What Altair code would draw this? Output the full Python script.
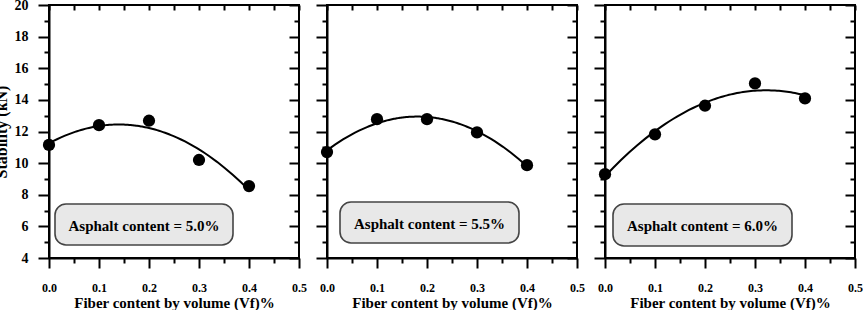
import altair as alt
import pandas as pd

# ---- data ----
fiber = [0.0, 0.1, 0.2, 0.3, 0.4]
stab_50 = [11.15, 12.40, 12.68, 10.20, 8.55]
stab_55 = [10.70, 12.78, 12.78, 11.94, 9.87]
stab_60 = [9.30, 11.82, 13.63, 15.04, 14.09]
box_labels = ["Asphalt content = 5.0%", "Asphalt content = 5.5%", "Asphalt content = 6.0%"]

x_major = [0.0, 0.1, 0.2, 0.3, 0.4, 0.5]
x_minor = [0.05, 0.15, 0.25, 0.35, 0.45]
y_major = [4, 6, 8, 10, 12, 14, 16, 18, 20]
y_minor = [5, 7, 9, 11, 13, 15, 17, 19]

W, H = 250, 253
FONT = "Liberation Serif"

xs = alt.Scale(domain=[0, 0.5], nice=False, zero=False)
ys = alt.Scale(domain=[4, 20], nice=False, zero=False)

tick_style = dict(grid=False, tickColor="black", tickWidth=2, domainColor="black",
                  domainWidth=2, labelFont=FONT, labelFontWeight="bold",
                  labelColor="black", titleFont=FONT, titleFontWeight="bold",
                  titleColor="black")


def panel(vals, label, first, box_x0, box_x1, box_y0, box_y1):
    df = pd.DataFrame({"x": fiber, "y": vals})
    base = alt.Chart(df)

    pts = base.mark_circle(size=150, color="black", opacity=1).encode(
        x=alt.X("x:Q", scale=xs, axis=alt.Axis(
            orient="bottom", values=x_major, format=".1f", tickSize=10,
            labelPadding=14, labelFontSize=12, labelFlush=False, labelOverlap=False,
            title="Fiber content by volume (Vf)%", titleFontSize=15,
            titleBaseline="alphabetic", titleY=49, titleX=W / 2, **tick_style)),
        y=alt.Y("y:Q", scale=ys, axis=alt.Axis(
            orient="left", values=y_major, tickSize=11, labelPadding=10,
            labels=first, labelFontSize=14, labelOverlap=False,
            title="Stability (kN)" if first else "", titleFontSize=16,
            titleX=-40, titleY=H / 2, **tick_style)),
    )

    line = base.transform_regression("x", "y", method="poly", order=2).mark_line(
        color="black", strokeWidth=2
    ).encode(
        x=alt.X("x:Q", scale=xs, axis=alt.Axis(
            orient="bottom", values=x_minor, tickSize=5, labels=False,
            domain=False, title="", **tick_style)),
        y=alt.Y("y:Q", scale=ys, axis=alt.Axis(
            orient="left", values=y_minor, tickSize=5, labels=False,
            domain=False, title="", **tick_style)),
    )

    inner_major = base.mark_point(opacity=0).encode(
        x=alt.X("x:Q", scale=xs, axis=alt.Axis(
            orient="bottom", offset=-H, values=x_major, tickSize=5, labels=False,
            domain=False, title="", **tick_style)),
        y=alt.Y("y:Q", scale=ys, axis=alt.Axis(
            orient="left", offset=-W, values=y_major, tickSize=10, labels=False,
            domain=False, title="", **tick_style)),
    )

    inner_minor = base.mark_point(opacity=0).encode(
        x=alt.X("x:Q", scale=xs, axis=alt.Axis(
            orient="bottom", offset=-H, values=x_minor, tickSize=5, labels=False,
            domain=False, title="", **tick_style)),
        y=alt.Y("y:Q", scale=ys, axis=alt.Axis(
            orient="left", offset=-W, values=y_minor, tickSize=5, labels=False,
            domain=False, title="", **tick_style)),
    )

    ldf = pd.DataFrame({"label": [label]})
    box = alt.Chart(ldf).mark_rect(
        fill="#e8e8e8", stroke="#444444", strokeWidth=1.6, cornerRadius=11
    ).encode(x=alt.value(box_x0), x2=alt.value(box_x1),
             y=alt.value(box_y0), y2=alt.value(box_y1))
    txt = alt.Chart(ldf).mark_text(
        font=FONT, fontWeight="bold", fontSize=15, color="black",
        align="center", baseline="middle"
    ).encode(text="label:N", x=alt.value((box_x0 + box_x1) / 2),
             y=alt.value((box_y0 + box_y1) / 2 + 1))

    return alt.layer(box, txt, line, pts, inner_major, inner_minor).resolve_axis(
        x="independent", y="independent"
    ).properties(width=W, height=H)


p1 = panel(stab_50, box_labels[0], True, 6, 184, 199, 240)
p2 = panel(stab_55, box_labels[1], False, 13, 192, 197, 238)
p3 = panel(stab_60, box_labels[2], False, 8, 187, 199, 241)

chart = alt.hconcat(p1, p2, p3, spacing=28, bounds="flush").properties(
    autosize=alt.AutoSizeParams(type="none"),
    padding={"left": 49, "top": 5, "right": 863 - 49, "bottom": 310 - 5},
    background="white",
).configure_view(stroke="black", strokeWidth=2)

chart.save("out.html", embed_options={"renderer": "svg", "actions": False})
